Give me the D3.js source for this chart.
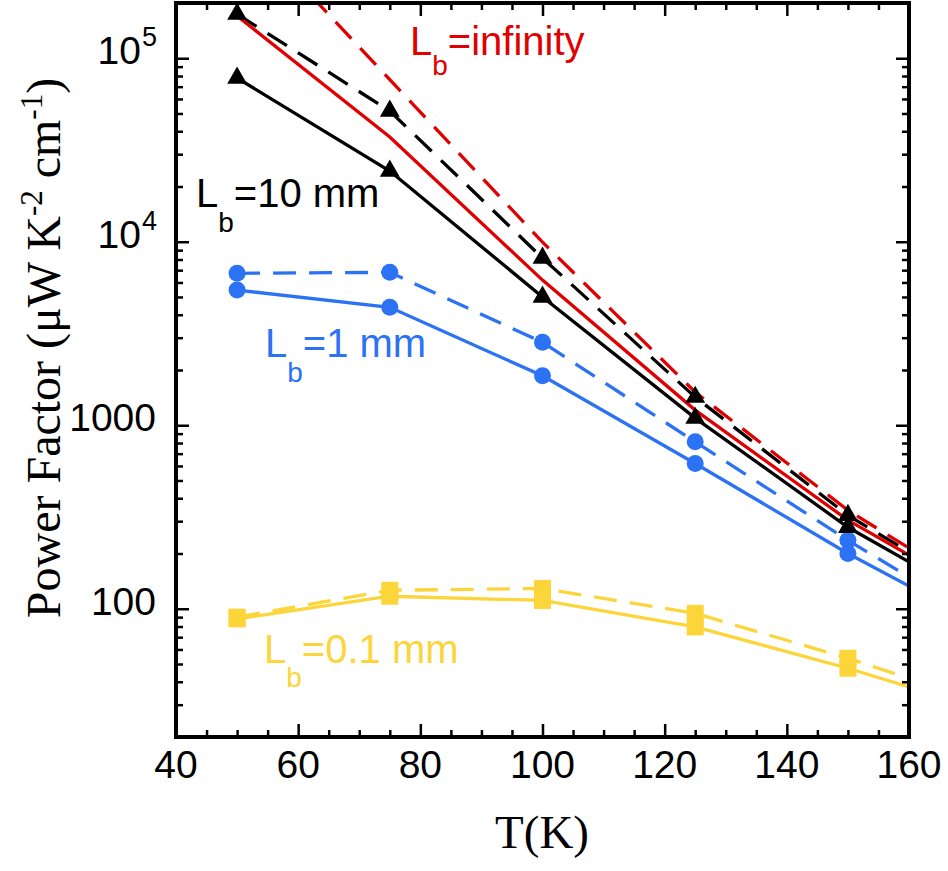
<!DOCTYPE html>
<html>
<head>
<meta charset="utf-8">
<script src="https://cdn.jsdelivr.net/npm/d3@7"></script>
<style>
  html, body { margin: 0; padding: 0; background: #fff; }
  svg { display: block; }
</style>
</head>
<body>
<svg id="chart" width="948" height="871"></svg>
<script>
// ---------------- data ----------------
const temperatures = [50, 75, 100, 125, 150, 160];
const markerTemps = [50, 75, 100, 125, 150];

const infSolid   = [170000, 37200, 6180, 1209, 304, 196];
const infDashed  = [590000, 76500, 9950, 1515, 344, 214];
const lb10Solid  = [78000, 24300, 5000, 1094, 278, 180];
const lb10Dashed = [174000, 51600, 8150, 1423, 323, 204];
const lb1Solid   = [5450, 4390, 1860, 619, 200, 133];
const lb1Dashed  = [6730, 6810, 2830, 812, 236, 149];
const lb01Solid  = [88, 117, 111, 79.6, 47.4, 37.5];
const lb01Dashed = [90, 126, 129, 94.4, 53.7, 41.8];

const xTickValues = [40, 60, 80, 100, 120, 140, 160];
const yMajorTicks = [100, 1000, 10000, 100000];
const yTickLabels = [["100", ""], ["1000", ""], ["10", "4"], ["10", "5"]];

const xDomain = [40, 160];
const yDomain = [20, 200000];

// ---------------- layout ----------------
const colors = { red: "#e00000", black: "#000000", blue: "#2b72f5", yellow: "#fcd53a" };
const m = { left: 176, right: 909, top: 3, bottom: 737 };

const svg = d3.select("#chart");
const x = d3.scaleLinear().domain(xDomain).range([m.left, m.right]);
const y = d3.scaleLog().domain(yDomain).range([m.bottom, m.top]);

svg.append("defs").append("clipPath").attr("id", "plotclip")
  .append("rect").attr("x", m.left).attr("y", m.top)
  .attr("width", m.right - m.left).attr("height", m.bottom - m.top);

// ---------------- series ----------------
const series = [
  { vals: infDashed,  color: colors.red,    dash: true,  marker: null },
  { vals: infSolid,   color: colors.red,    dash: false, marker: null },
  { vals: lb10Dashed, color: colors.black,  dash: true,  marker: "tri" },
  { vals: lb10Solid,  color: colors.black,  dash: false, marker: "tri" },
  { vals: lb1Dashed,  color: colors.blue,   dash: true,  marker: "circ" },
  { vals: lb1Solid,   color: colors.blue,   dash: false, marker: "circ" },
  { vals: lb01Dashed, color: colors.yellow, dash: true,  marker: "sq" },
  { vals: lb01Solid,  color: colors.yellow, dash: false, marker: "sq" }
];

const line = d3.line().x(d => x(d[0])).y(d => y(d[1]));
const plot = svg.append("g").attr("clip-path", "url(#plotclip)");

const order = [6, 7, 4, 5, 2, 3, 0, 1];
order.forEach(i => {
  const s = series[i];
  const pts = temperatures.map((t, k) => [t, s.vals[k]]);
  plot.append("path").datum(pts)
    .attr("d", line)
    .attr("fill", "none")
    .attr("stroke", s.color)
    .attr("stroke-width", 3.3)
    .attr("stroke-dasharray", s.dash ? "23,13" : null);
});

const symTri = d3.symbol(d3.symbolTriangle, 170)();
order.forEach(i => {
  const s = series[i];
  if (!s.marker) return;
  const pts = markerTemps.map((t, k) => [t, s.vals[k]]);
  const g = plot.append("g");
  pts.forEach(p => {
    const cx = x(p[0]), cy = y(p[1]);
    if (s.marker === "tri") {
      g.append("path").attr("d", symTri).attr("transform", `translate(${cx},${cy})`).attr("fill", s.color);
    } else if (s.marker === "circ") {
      g.append("circle").attr("cx", cx).attr("cy", cy).attr("r", 8.5).attr("fill", s.color);
    } else {
      g.append("rect").attr("x", cx - 8.5).attr("y", cy - 8.5).attr("width", 17).attr("height", 17).attr("fill", s.color);
    }
  });
});

// ---------------- axes ----------------
const xMinor = d3.range(40, 161, 5).filter(v => v % 20 !== 0);
const yMinor = [];
[1, 10, 100, 1000, 10000, 100000].forEach(dec => {
  for (let k = 2; k <= 9; k++) {
    const v = dec * k;
    if (v >= yDomain[0] && v <= yDomain[1]) yMinor.push(v);
  }
});

function styleAxis(g) {
  g.select(".domain").remove();
  g.selectAll(".tick line").attr("stroke", "#000").attr("stroke-width", 2.5);
  g.selectAll(".tick text").remove();
}

svg.append("g").attr("transform", `translate(0,${m.bottom})`)
  .call(d3.axisBottom(x).tickValues(xTickValues).tickSize(-13).tickFormat("")).call(styleAxis);
svg.append("g").attr("transform", `translate(0,${m.bottom})`)
  .call(d3.axisBottom(x).tickValues(xMinor).tickSize(-7).tickFormat("")).call(styleAxis);
svg.append("g").attr("transform", `translate(0,${m.top})`)
  .call(d3.axisTop(x).tickValues(xTickValues).tickSize(-13).tickFormat("")).call(styleAxis);
svg.append("g").attr("transform", `translate(0,${m.top})`)
  .call(d3.axisTop(x).tickValues(xMinor).tickSize(-7).tickFormat("")).call(styleAxis);
svg.append("g").attr("transform", `translate(${m.left},0)`)
  .call(d3.axisLeft(y).tickValues(yMajorTicks).tickSize(-13).tickFormat("")).call(styleAxis);
svg.append("g").attr("transform", `translate(${m.left},0)`)
  .call(d3.axisLeft(y).tickValues(yMinor).tickSize(-7).tickFormat("")).call(styleAxis);
svg.append("g").attr("transform", `translate(${m.right},0)`)
  .call(d3.axisRight(y).tickValues(yMajorTicks).tickSize(-13).tickFormat("")).call(styleAxis);
svg.append("g").attr("transform", `translate(${m.right},0)`)
  .call(d3.axisRight(y).tickValues(yMinor).tickSize(-7).tickFormat("")).call(styleAxis);

svg.append("rect").attr("x", m.left).attr("y", m.top)
  .attr("width", m.right - m.left).attr("height", m.bottom - m.top)
  .attr("fill", "none").attr("stroke", "#000").attr("stroke-width", 4);

svg.append("g").selectAll("text").data(xTickValues).join("text")
  .attr("x", d => x(d)).attr("y", 778)
  .attr("text-anchor", "middle")
  .attr("font-family", "'Liberation Sans', Arial, sans-serif")
  .attr("font-size", 39).attr("fill", "#000")
  .text(d => d);

yMajorTicks.forEach((v, i) => {
  const [base, sup] = yTickLabels[i];
  svg.append("text")
    .attr("x", sup ? 141 : 156).attr("y", y(v) + 6)
    .attr("text-anchor", "end")
    .attr("font-family", "'Liberation Sans', Arial, sans-serif")
    .attr("font-size", 39).attr("fill", "#000")
    .text(base);
  if (sup) {
    svg.append("text")
      .attr("x", 142).attr("y", y(v) - 12)
      .attr("font-family", "'Liberation Sans', Arial, sans-serif")
      .attr("font-size", 27).attr("fill", "#000")
      .text(sup);
  }
});

svg.append("text")
  .attr("x", 542).attr("y", 848)
  .attr("text-anchor", "middle")
  .attr("font-family", "'Liberation Serif', 'Times New Roman', serif")
  .attr("font-size", 47).attr("fill", "#000")
  .text("T(K)");

const yt = svg.append("text")
  .attr("transform", "translate(60,348) rotate(-90)")
  .attr("text-anchor", "middle")
  .attr("font-family", "'Liberation Serif', 'Times New Roman', serif")
  .attr("font-size", 48).attr("fill", "#000");
yt.append("tspan").text("Power Factor (\u03bcW K");
yt.append("tspan").attr("dy", -18).attr("font-size", 31).text("-2");
yt.append("tspan").attr("dy", 18).text(" cm");
yt.append("tspan").attr("dy", -18).attr("font-size", 31).text("-1");
yt.append("tspan").attr("dy", 18).text(")");

const annotations = [
  { text: "=infinity", color: colors.red,    x: 410, y: 55,  sub: 20 },
  { text: "=10 mm",    color: colors.black,  x: 196, y: 207, sub: 25 },
  { text: "=1 mm",     color: colors.blue,   x: 265, y: 357, sub: 25 },
  { text: "=0.1 mm",   color: colors.yellow, x: 264, y: 663, sub: 24 }
];
annotations.forEach(a => {
  const t = svg.append("text")
    .attr("x", a.x).attr("y", a.y)
    .attr("font-family", "'Liberation Sans', Arial, sans-serif")
    .attr("font-size", 40).attr("fill", a.color);
  t.append("tspan").text("L");
  t.append("tspan").attr("dy", a.sub).attr("font-size", 28).text("b");
  t.append("tspan").attr("dy", -a.sub).text(a.text);
});
</script>
</body>
</html>
